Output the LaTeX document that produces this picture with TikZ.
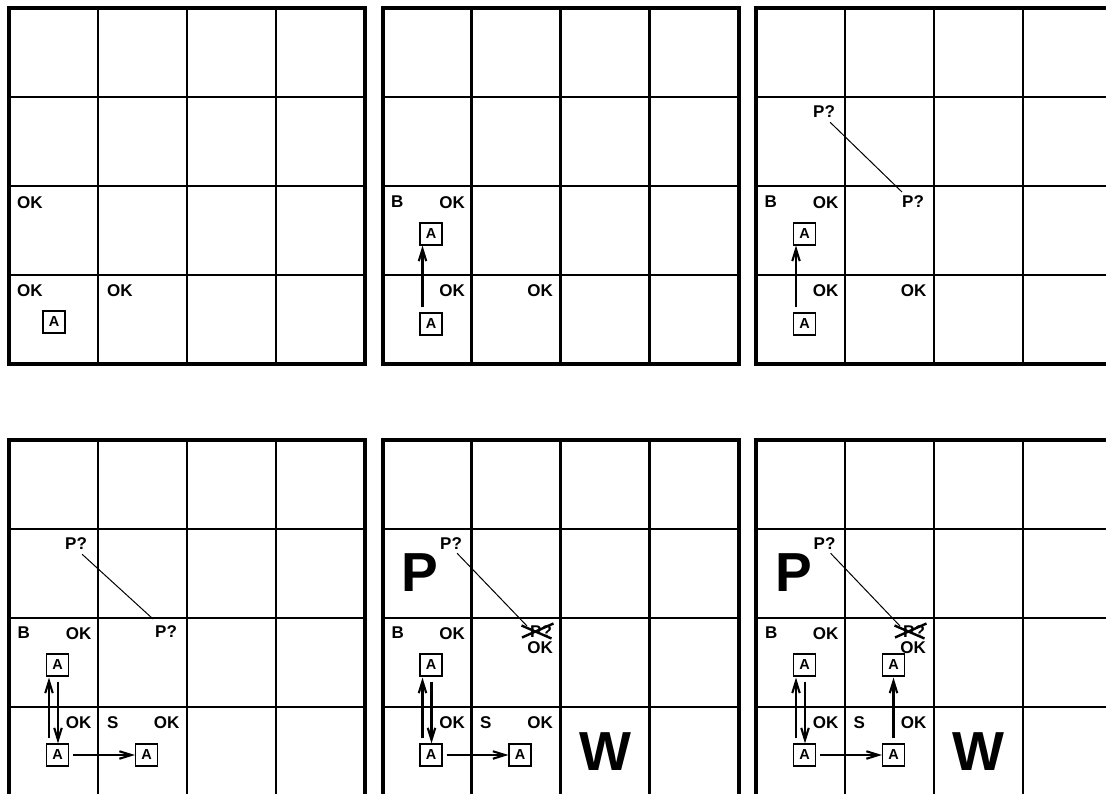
\documentclass[tikz,border=0pt]{standalone}
\usepackage{fontspec}
\setmainfont{Liberation Sans}
\usetikzlibrary{arrows.meta}
\begin{document}
\begin{tikzpicture}[x=1pt,y=-1pt,
  innerline/.style={line width=2.7pt},
  outerline/.style={line width=4pt},
  lbl/.style={font=\fontsize{17}{17}\selectfont\bfseries, inner sep=0pt},
  agent/.style={draw, line width=1.2pt, minimum size=22pt, inner sep=0pt, font=\fontsize{14.5}{14.5}\selectfont\bfseries},
  big/.style={font=\fontsize{55}{55}\selectfont\bfseries, inner sep=0pt},
  mv/.style={line width=2.1pt, -{Straight Barb[length=12pt,width=7.5pt]}},
  link/.style={line width=1pt},
  crossout/.style={line width=2.4pt},
]
\clip (0,0) rectangle (1106,794);
\fill[white] (0,0) rectangle (1106,794);
% grids
\foreach \ox/\oy in {9/8, 382.5/8, 756/8, 9/440, 382.5/440, 756/440}{
  \begin{scope}[shift={(\ox,\oy)}]
    \foreach \i in {1,2,3}{
      \draw[innerline] (\i*89,0) -- (\i*89,356);
      \draw[innerline] (0,\i*89) -- (356,\i*89);
    }
    \draw[outerline] (0,0) rectangle (356,356);
  \end{scope}
}
% panel 1
\begin{scope}[shift={(9,8)}]
  \node[lbl, anchor=north west] (aok1) at (8,188) {OK};
  \node[lbl, anchor=north west] (aok2) at (8,276) {OK};
  \node[lbl, anchor=north west] (aok3) at (98,276) {OK};
  \node[agent] (aa1) at (45,314) {A};
\end{scope}
% panel 2
\begin{scope}[shift={(382.5,8)}]
  \node[lbl, anchor=north west] (bb) at (8.5,188) {B};
  \node[lbl, anchor=north east] (bok1) at (82.5,188) {OK};
  \node[lbl, anchor=north east] (bok2) at (82.5,276) {OK};
  \node[lbl, anchor=north east] (bok3) at (170.5,276) {OK};
  \node[agent] (ba1) at (48.5,316) {A};
  \node[agent] (ba2) at (48.5,226) {A};
  \draw[mv] ([xshift=-8.5pt,yshift=5pt]ba1.north) -- ([xshift=-8.5pt]ba2.south);
\end{scope}
% panel 3
\begin{scope}[shift={(756,8)}]
  \node[lbl, anchor=north west] (cb) at (8.5,188) {B};
  \node[lbl, anchor=north east] (cok1) at (82.5,188) {OK};
  \node[lbl, anchor=north east] (cok2) at (82.5,276) {OK};
  \node[lbl, anchor=north east] (cok3) at (170.5,276) {OK};
  \node[agent] (ca1) at (48.5,316) {A};
  \node[agent] (ca2) at (48.5,226) {A};
  \draw[mv] ([xshift=-8.5pt,yshift=5pt]ca1.north) -- ([xshift=-8.5pt]ca2.south);
  \node[lbl, anchor=north west] (cq1) at (57,97) {P?};
  \node[lbl, anchor=north west] (cq2) at (146,187) {P?};
  \draw[link] ([xshift=-5pt,yshift=-5pt]cq1.south east) -- ([yshift=3pt]cq2.north west);
\end{scope}
% panel 4
\begin{scope}[shift={(9,440)}]
  \node[lbl, anchor=north west] (db) at (8.5,187) {B};
  \node[lbl, anchor=north east] (dok1) at (82.5,187) {OK};
  \node[lbl, anchor=north east] (dok2) at (82.5,276) {OK};
  \node[lbl, anchor=north west] (ds) at (98,276) {S};
  \node[lbl, anchor=north east] (dok3) at (170.5,276) {OK};
  \node[agent] (da1) at (48.5,315) {A};
  \node[agent] (da2) at (48.5,225) {A};
  \node[agent] (da3) at (137.5,315) {A};
  \draw[mv] ([xshift=-8.5pt,yshift=5pt]da1.north) -- ([xshift=-8.5pt,yshift=-1pt]da2.south);
  \draw[mv] ([xshift=0.5pt,yshift=-5pt]da2.south) -- ([xshift=0.5pt]da1.north);
  \draw[mv] ([xshift=4pt]da1.east) -- (da3.west);
  \node[lbl, anchor=north west] (dq1) at (56,97) {P?};
  \node[lbl, anchor=north west] (dq2) at (146,185) {P?};
  \draw[link] ([xshift=-5pt,yshift=-5pt]dq1.south east) -- ([xshift=-2pt,yshift=6pt]dq2.north west);
\end{scope}
% panel 5
\begin{scope}[shift={(382.5,440)}]
  \node[lbl, anchor=north west] (eb) at (9,187) {B};
  \node[lbl, anchor=north east] (eok1) at (82.5,187) {OK};
  \node[lbl, anchor=north east] (eok2) at (82.5,276) {OK};
  \node[lbl, anchor=north west] (es) at (97.5,276) {S};
  \node[lbl, anchor=north east] (eok3) at (170.5,276) {OK};
  \node[agent] (ea1) at (48.5,315) {A};
  \node[agent] (ea2) at (48.5,225) {A};
  \node[agent] (ea3) at (137.5,315) {A};
  \draw[mv] ([xshift=-8.5pt,yshift=5pt]ea1.north) -- ([xshift=-8.5pt,yshift=-1pt]ea2.south);
  \draw[mv] ([xshift=0.5pt,yshift=-5pt]ea2.south) -- ([xshift=0.5pt]ea1.north);
  \draw[mv] ([xshift=4pt]ea1.east) -- (ea3.west);
  \node[big] (ep) at (37.5,133) {P};
  \node[big] (ew) at (222.5,312) {W};
  \node[lbl, anchor=north west] (eq1) at (57.5,97) {P?};
  \node[lbl, anchor=north west] (eq2) at (147.5,185) {P?};
  \node[lbl, anchor=north east] (eok4) at (170.5,201) {OK};
  \draw[link] ([xshift=-5pt,yshift=-4pt]eq1.south east) -- ([xshift=-3pt,yshift=-1pt]eq2.north west);
  \draw[crossout] ([xshift=-8.5pt,yshift=-0.5pt]eq2.north west) -- ([xshift=21.5pt,yshift=-13.5pt]eq2.north west);
  \draw[crossout] ([xshift=-8pt,yshift=-12.5pt]eq2.north west) -- ([xshift=23.5pt,yshift=1.5pt]eq2.north west);
\end{scope}
% panel 6
\begin{scope}[shift={(756,440)}]
  \node[lbl, anchor=north west] (fb) at (9,187) {B};
  \node[lbl, anchor=north east] (fok1) at (82.5,187) {OK};
  \node[lbl, anchor=north east] (fok2) at (82.5,276) {OK};
  \node[lbl, anchor=north west] (fs) at (97.5,276) {S};
  \node[lbl, anchor=north east] (fok3) at (170.5,276) {OK};
  \node[agent] (fa1) at (48.5,315) {A};
  \node[agent] (fa2) at (48.5,225) {A};
  \node[agent] (fa3) at (137.5,315) {A};
  \node[agent] (fa4) at (137.5,225) {A};
  \draw[mv] ([xshift=-8.5pt,yshift=5pt]fa1.north) -- ([xshift=-8.5pt,yshift=-1pt]fa2.south);
  \draw[mv] ([xshift=0.5pt,yshift=-5pt]fa2.south) -- ([xshift=0.5pt]fa1.north);
  \draw[mv] ([xshift=4pt]fa1.east) -- (fa3.west);
  \draw[mv] ([yshift=5pt]fa3.north) -- ([yshift=-1pt]fa4.south);
  \node[big] (fp) at (37.5,133) {P};
  \node[big] (fw) at (222.5,312) {W};
  \node[lbl, anchor=north west] (fq1) at (57.5,97) {P?};
  \node[lbl, anchor=north west] (fq2) at (147,185) {P?};
  \node[lbl, anchor=north east] (fok4) at (170,201) {OK};
  \draw[link] ([xshift=-5pt,yshift=-4pt]fq1.south east) -- ([xshift=-3pt,yshift=-1pt]fq2.north west);
  \draw[crossout] ([xshift=-8.5pt,yshift=-0.5pt]fq2.north west) -- ([xshift=21.5pt,yshift=-13.5pt]fq2.north west);
  \draw[crossout] ([xshift=-8pt,yshift=-12.5pt]fq2.north west) -- ([xshift=23.5pt,yshift=1.5pt]fq2.north west);
\end{scope}
\end{tikzpicture}
\end{document}
